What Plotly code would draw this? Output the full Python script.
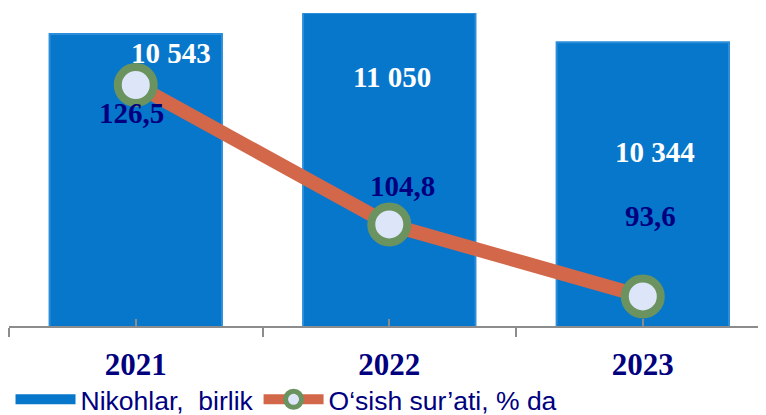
import plotly.graph_objects as go

years = ["2021", "2022", "2023"]
nikohlar = [10543, 11050, 10344]          # Nikohlar, birlik
osish = [126.5, 104.8, 93.6]              # O‘sish sur’ati, % da

bar_name = "Nikohlar,\u00a0 birlik"
line_name = "O‘sish sur’ati, % da"

navy = "#00007F"
serif = "Liberation Serif"
bar_blue = "#0777CB"

def fmt_int(v):
    return f"{v:,}".replace(",", " ")

def fmt_dec(v):
    return f"{v:.1f}".replace(".", ",")

fig = go.Figure()

fig.add_trace(go.Bar(
    x=years, y=nikohlar, name=bar_name, width=0.68, showlegend=False,
    marker=dict(color=bar_blue, line=dict(color="#2C8EDA", width=2)),
    hoverinfo="skip",
))

# legend entry for the bars drawn as a wide bar-like swatch
fig.add_trace(go.Scatter(
    x=[None], y=[None], name=bar_name, mode="lines",
    line=dict(color=bar_blue, width=18), hoverinfo="skip",
))

fig.add_trace(go.Scatter(
    x=years, y=osish, name=line_name, yaxis="y2", mode="lines+markers",
    line=dict(color="#D3674A", width=14),
    marker=dict(size=36, color="#DDE5F8", line=dict(color="#6B935F", width=8)),
    hoverinfo="skip",
))

# value labels
bar_shift = [(35, -19), (3, -64), (12, -110)]
for i, (v, (dx, dy)) in enumerate(zip(nikohlar, bar_shift)):
    fig.add_annotation(x=i, xref="x", y=v, yref="y", text="<b>" + fmt_int(v) + "</b>",
                       showarrow=False, xshift=dx, yshift=dy, yanchor="middle",
                       font=dict(family=serif, size=29, color="white"))

line_shift = [(-4, -28), (13, 38), (8, 80)]
for i, (v, (dx, dy)) in enumerate(zip(osish, line_shift)):
    fig.add_annotation(x=i, xref="x", y=v, yref="y2", text="<b>" + fmt_dec(v) + "</b>",
                       showarrow=False, xshift=dx, yshift=dy, yanchor="middle",
                       font=dict(family=serif, size=29, color=navy))

# page body adds an 8px offset, so the figure is sized to fit the window
fig.update_layout(
    width=758, height=407,
    margin=dict(l=1, r=0, t=5, b=89, autoexpand=False),
    paper_bgcolor="white", plot_bgcolor="white",
    showlegend=True,
    legend=dict(orientation="h", x=0.002, xanchor="left",
                y=-0.235, yanchor="middle",
                font=dict(family="Liberation Sans", size=26.5, color=navy),
                itemwidth=60, traceorder="normal"),
    xaxis=dict(type="category", tickvals=years, ticktext=["<b>%s</b>" % y for y in years],
               range=[-0.5, 2.486], showgrid=False, automargin=False,
               showline=True, linecolor="#8C8C8C", linewidth=1.5,
               ticks="outside", tickson="boundaries", ticklen=9, tickcolor="#8C8C8C",
               tickwidth=1.5, ticklabelstandoff=10,
               tickfont=dict(family=serif, size=31, color=navy)),
    xaxis2=dict(type="category", overlaying="x", matches="x", side="bottom",
                showgrid=False, showline=False, showticklabels=False, automargin=False,
                ticks="inside", ticklen=7, tickcolor="#8C8C8C", tickwidth=1.5,
                anchor="y", layer="above traces"),
    yaxis=dict(range=[3500, 11050], visible=False, showgrid=False),
    yaxis2=dict(range=[89.0, 137.7], overlaying="y", visible=False, showgrid=False),
)

# invisible trace so the inner centre ticks get drawn
fig.add_trace(go.Scatter(x=years, y=[None] * 3, xaxis="x2", showlegend=False,
                         hoverinfo="skip"))

fig.write_html("out.html")
